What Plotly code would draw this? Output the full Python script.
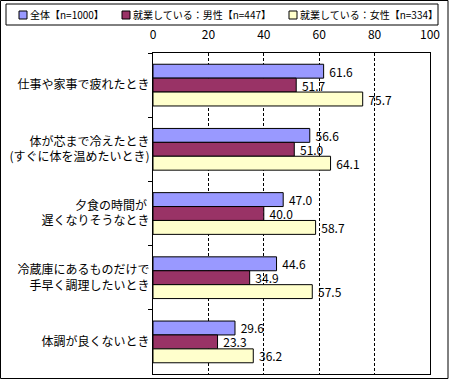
import plotly.graph_objects as go

categories = [
    "仕事や家事で疲れたとき",
    "体が芯まで冷えたとき<br>(すぐに体を温めたいとき)",
    "夕食の時間が <br>遅くなりそうなとき",
    "冷蔵庫にあるものだけで<br>手早く調理したいとき",
    "体調が良くないとき",
]
series_names = ["全体【n=1000】", "就業している：男性【n=447】", "就業している：女性【n=334】"]
total = [61.6, 56.6, 47.0, 44.6, 29.6]
male = [51.7, 51.0, 40.0, 34.9, 23.3]
female = [75.7, 64.1, 58.7, 57.5, 36.2]
x_ticks = [0, 20, 40, 60, 80, 100]

colors = ["#9999FF", "#993366", "#FFFFCC"]
series_values = [total, male, female]

FONT = "Noto Sans CJK JP"

fig = go.Figure()
for name, vals, col in zip(series_names, series_values, colors):
    fig.add_trace(go.Bar(
        y=categories, x=vals, orientation="h", name=name,
        marker=dict(color=col, line=dict(color="black", width=1)),
        text=[f"\u00a0{v:.1f}" for v in vals], textposition="outside",
        constraintext="none",
        textfont=dict(family=FONT, size=12, color="black"),
        cliponaxis=False, showlegend=False, hoverinfo="skip",
    ))

W, H = 450, 380
L, R, T, B = 153, 20, 53, 6
pw, ph = W - L - R, H - T - B


def px(xp):
    return (xp - L) / pw


def py(yp):
    return (H - B - yp) / ph


shapes = [
    dict(type="rect", xref="paper", yref="paper", x0=px(0.5), x1=px(448), y0=py(378.5), y1=py(0.5),
         line=dict(color="black", width=1)),
    dict(type="rect", xref="paper", yref="paper", x0=px(6), x1=px(438), y0=py(25), y1=py(4),
         line=dict(color="black", width=1)),
]
annotations = []
leg_sq = [19, 122, 289]
for name, col, sx in zip(series_names, colors, leg_sq):
    shapes.append(dict(type="rect", xref="paper", yref="paper", x0=px(sx), x1=px(sx + 8),
                       y0=py(19), y1=py(11), fillcolor=col, line=dict(color="black", width=1)))
    annotations.append(dict(xref="paper", yref="paper", x=px(sx + 9), y=py(15), xanchor="left",
                            yanchor="middle", text=name, showarrow=False,
                            font=dict(family=FONT, size=10, color="black")))

fig.update_layout(
    width=W, height=H, margin=dict(l=L, r=R, t=T, b=B, autoexpand=False),
    paper_bgcolor="white", plot_bgcolor="white",
    barmode="group", bargap=0.35, bargroupgap=0,
    font=dict(family=FONT, size=12, color="black"),
    shapes=shapes, annotations=annotations, showlegend=False,
    xaxis=dict(side="top", range=[0, 100], tickvals=x_ticks, showgrid=True,
               gridcolor="black", griddash="3px,2px", gridwidth=1, zeroline=False,
               showline=True, linecolor="black", mirror=True, ticks="",
               ticklabelstandoff=8, tickfont=dict(family=FONT, size=12), automargin=False),
    yaxis=dict(autorange="reversed", showline=True, linecolor="black", mirror=True,
               ticks="outside", ticklen=4, tickcolor="black", tickson="boundaries",
               showgrid=False, tickfont=dict(family=FONT, size=12), automargin=False),
)

fig.write_html("out.html", config={"displayModeBar": False},
               post_script="document.body.style.margin='0';document.body.style.padding='0';")
